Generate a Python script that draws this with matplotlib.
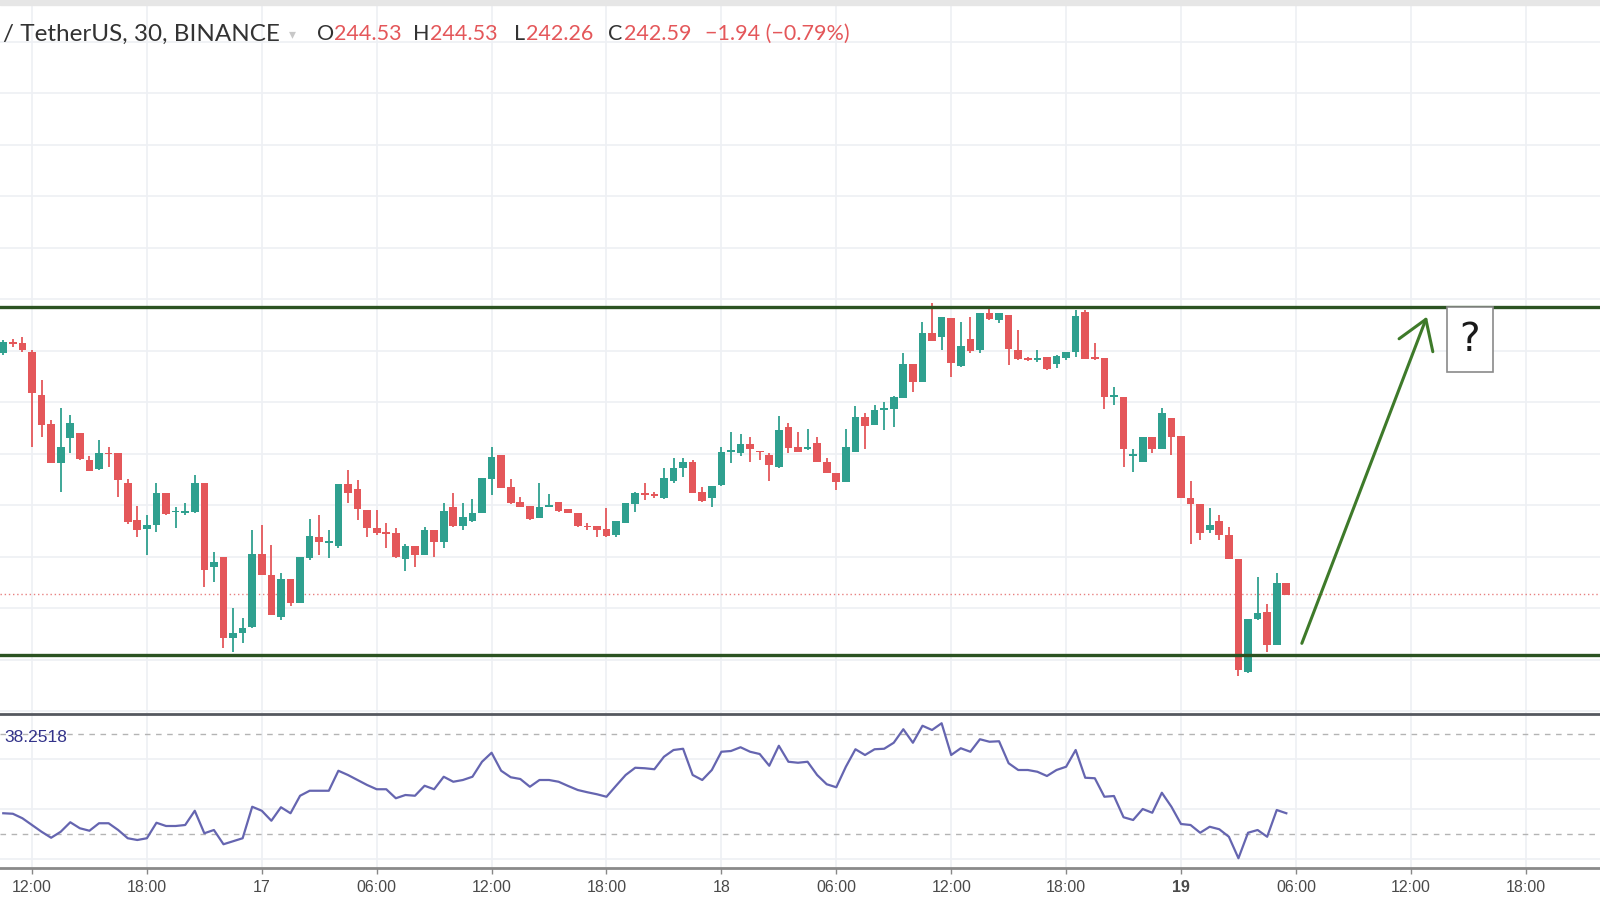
import matplotlib
matplotlib.use('Agg')
import matplotlib.pyplot as plt
from matplotlib.patches import Rectangle
import numpy as np
import pandas as pd

# 30 minute candles, 16th 10:30 -> 19th 05:30
times = pd.date_range('2018-11-16 10:30', periods=135, freq='30min')

opens = [249.82, 250.14, 250.12, 249.87, 248.57, 247.70, 246.52, 247.27, 247.44, 246.62,
         246.34, 246.84, 246.82, 245.94, 244.82, 244.54, 244.67, 245.62, 245.05, 245.02,
         245.07, 245.92, 243.42, 243.72, 241.27, 241.42, 241.60, 243.80, 243.17, 241.92,
         243.04, 242.32, 243.67, 244.32, 244.14, 244.04, 245.90, 245.74, 245.12, 244.57,
         244.42, 244.42, 243.64, 244.04, 243.77, 244.52, 244.17, 245.22, 244.64, 244.80,
         245.02, 246.04, 246.77, 245.82, 245.37, 245.24, 244.87, 245.22, 245.37, 245.14,
         245.04, 244.64, 244.64, 244.54, 244.37, 244.74, 245.30, 245.64, 245.60, 245.47,
         246.00, 246.37, 246.57, 245.67, 245.47, 245.87, 246.87, 246.82, 247.10, 246.89,
         246.77, 246.40, 247.62, 247.00, 246.95, 247.12, 246.57, 246.24, 245.97, 246.87,
         247.92, 247.67, 248.12, 248.14, 248.47, 249.50, 248.97, 250.42, 250.32, 250.87,
         249.44, 250.24, 249.92, 251.04, 250.82, 250.97, 249.92, 249.66, 249.62, 249.72,
         249.50, 249.67, 249.87, 251.07, 249.69, 249.67, 248.50, 248.50, 246.75, 246.57,
         247.30, 246.94, 247.87, 247.34, 245.47, 245.30, 244.52, 244.80, 244.37, 243.64,
         240.27, 241.84, 242.07, 241.07, 242.92]
highs = [250.22, 250.24, 250.32, 249.92, 249.02, 247.82, 248.17, 247.97, 247.44, 246.74,
         247.22, 247.02, 246.82, 246.04, 245.24, 244.97, 245.94, 245.62, 245.22, 245.34,
         246.17, 245.94, 243.87, 243.72, 242.17, 241.87, 244.52, 244.67, 244.07, 243.22,
         243.04, 243.72, 244.84, 244.97, 244.52, 245.90, 246.32, 246.02, 245.12, 245.12,
         244.72, 244.57, 244.10, 244.04, 244.62, 244.52, 245.32, 245.62, 245.32, 245.44,
         246.07, 247.02, 246.77, 246.04, 245.50, 245.24, 245.92, 245.60, 245.37, 245.16,
         245.04, 244.74, 244.64, 245.17, 244.80, 245.32, 245.67, 245.94, 245.67, 246.37,
         246.67, 246.67, 246.62, 245.82, 245.84, 247.02, 247.47, 247.40, 247.32, 246.89,
         246.82, 247.94, 247.74, 247.47, 247.54, 247.32, 246.67, 246.24, 247.54, 248.24,
         248.02, 248.27, 248.37, 248.54, 249.82, 249.50, 250.77, 251.32, 250.92, 250.87,
         250.77, 250.92, 251.04, 251.17, 251.02, 250.97, 250.52, 249.72, 249.92, 249.72,
         249.77, 249.87, 251.12, 251.12, 250.12, 249.67, 248.82, 248.50, 246.94, 247.30,
         247.30, 248.17, 247.87, 247.34, 246.00, 245.30, 245.17, 244.97, 244.62, 243.64,
         241.84, 243.10, 242.30, 243.22, 242.92]
lows = [249.77, 250.02, 249.87, 247.02, 247.32, 246.52, 245.67, 246.82, 246.62, 246.30,
        246.32, 246.42, 245.52, 244.70, 244.32, 243.77, 244.47, 244.97, 244.57, 244.97,
        245.02, 242.82, 242.97, 240.97, 240.87, 241.12, 241.57, 243.17, 241.97, 241.82,
        242.24, 242.32, 243.62, 243.77, 243.67, 243.97, 245.32, 244.82, 244.32, 244.37,
        243.97, 243.67, 243.30, 243.42, 243.77, 243.72, 243.97, 244.62, 244.52, 244.77,
        245.02, 245.57, 245.77, 245.30, 245.20, 244.82, 244.87, 245.20, 245.07, 245.02,
        244.60, 244.52, 244.30, 244.32, 244.32, 244.72, 245.07, 245.42, 245.47, 245.44,
        245.94, 246.12, 245.62, 245.37, 245.22, 245.84, 246.52, 246.74, 246.57, 246.62,
        246.00, 246.37, 246.82, 246.87, 246.92, 246.57, 246.22, 245.72, 245.97, 246.87,
        246.94, 247.67, 247.52, 247.62, 248.47, 248.67, 248.97, 250.20, 249.92, 249.10,
        249.40, 249.82, 249.82, 250.82, 250.72, 249.47, 249.62, 249.59, 249.57, 249.32,
        249.37, 249.62, 249.72, 249.64, 249.62, 248.14, 248.27, 246.42, 246.27, 246.57,
        246.82, 246.94, 246.77, 245.47, 244.10, 244.22, 244.44, 244.22, 243.64, 240.14,
        240.24, 241.82, 240.87, 241.07, 242.57]
closes = [250.17, 250.10, 249.92, 248.62, 247.67, 246.52, 247.02, 247.72, 246.64, 246.30,
          246.82, 246.79, 246.02, 244.77, 244.52, 244.67, 245.62, 245.00, 245.10, 245.10,
          245.94, 243.32, 243.57, 241.27, 241.42, 241.57, 243.80, 243.17, 241.97, 243.04,
          242.32, 243.72, 244.34, 244.17, 244.20, 245.90, 245.62, 245.14, 244.57, 244.42,
          244.40, 243.70, 244.04, 243.77, 244.52, 244.17, 245.10, 244.64, 244.90, 245.04,
          246.07, 246.72, 245.77, 245.34, 245.22, 244.84, 245.22, 245.26, 245.10, 245.04,
          244.64, 244.60, 244.52, 244.34, 244.80, 245.32, 245.64, 245.57, 245.55, 246.07,
          246.37, 246.57, 245.64, 245.40, 245.84, 246.87, 246.89, 247.10, 246.94, 246.85,
          246.47, 247.52, 246.97, 246.87, 246.99, 246.57, 246.22, 245.97, 247.00, 247.92,
          247.64, 248.12, 248.16, 248.50, 249.50, 248.97, 250.42, 250.20, 250.92, 249.54,
          250.04, 249.90, 251.04, 250.84, 251.02, 249.94, 249.65, 249.62, 249.66, 249.34,
          249.74, 249.87, 250.94, 249.64, 249.65, 248.50, 248.57, 246.94, 246.79, 247.30,
          246.94, 248.04, 247.32, 245.47, 245.30, 244.42, 244.67, 244.37, 243.64, 240.32,
          241.84, 242.04, 241.07, 242.92, 242.57]
rsi = [38.3, 38.1, 36.3, 33.6, 30.9, 28.5, 30.9, 34.7, 32.3, 31.3,
       34.3, 34.3, 31.6, 28.3, 27.6, 28.3, 34.5, 33.2, 33.2, 33.6,
       39.3, 30.3, 31.6, 25.9, 27.1, 28.3, 40.9, 39.3, 35.3, 40.7,
       38.3, 45.3, 47.3, 47.3, 47.3, 55.3, 53.6, 51.6, 49.6, 47.9,
       47.9, 44.3, 45.6, 45.3, 49.3, 47.9, 52.9, 50.9, 51.6, 52.9,
       58.9, 62.5, 55.3, 52.7, 52.0, 48.9, 51.6, 51.6, 50.9, 49.2,
       47.6, 46.7, 45.9, 44.9, 49.3, 53.6, 56.5, 56.3, 55.9, 60.9,
       63.6, 64.1, 53.6, 51.6, 55.6, 62.9, 63.2, 64.7, 62.9, 62.0,
       57.3, 65.3, 58.9, 58.5, 58.9, 53.6, 49.9, 48.7, 56.9, 63.9,
       61.6, 63.9, 64.1, 66.5, 71.9, 66.5, 73.3, 71.6, 74.3, 61.6,
       64.3, 62.9, 67.9, 66.9, 67.1, 58.3, 55.6, 55.6, 54.9, 53.2,
       55.6, 56.9, 63.6, 52.5, 52.3, 44.9, 45.2, 36.7, 35.6, 40.0,
       38.5, 46.5, 40.9, 34.0, 33.6, 30.5, 32.9, 31.9, 28.9, 20.3,
       30.5, 31.6, 28.9, 39.6, 38.3]

resistance = 251.22
support = 240.77
last_price = 242.59
rsi_text = '38.2518'

tick_hours = [-12, -6, 0, 6, 12, 18, 24, 30, 36, 42, 48, 54, 60, 66]
tick_labels = ['12:00', '18:00', '17', '06:00', '12:00', '18:00', '18',
               '06:00', '12:00', '18:00', '19', '06:00', '12:00', '18:00']

GREEN = '#2fa08f'
RED = '#e4575a'
GRID = '#eef0f4'

o = np.array(opens); h = np.array(highs); l = np.array(lows); c = np.array(closes)
hrs = np.asarray((times - pd.Timestamp('2018-11-17')) / pd.Timedelta(hours=1))
up = c >= o
cols = np.where(up, GREEN, RED)

fig = plt.figure(figsize=(16, 9), dpi=100)
fig.patch.set_facecolor('white')
fig.patches.append(Rectangle((0, 1 - 5 / 900), 1, 5 / 900, transform=fig.transFigure,
                             color='#e6e6e6', zorder=0))

ax = fig.add_axes([0, 1 - 713 / 900, 1, 708 / 900])
ax_r = fig.add_axes([0, 1 - 868 / 900, 1, 154 / 900])

xlim = (-13.67, 69.88)

# main pane
ax.set_xlim(*xlim)
ax.set_ylim(239.03, 260.27)
for y in np.arange(242.18 - 3 * 1.545, 261, 1.545):
    ax.axhline(y, color=GRID, lw=1.2, zorder=0)
for x in tick_hours:
    ax.axvline(x, color=GRID, lw=1.2, zorder=0)

ax.vlines(hrs, l, h, colors=cols, lw=1.3, zorder=3)
body = np.maximum(np.abs(c - o), 0.05)
ax.bar(hrs, body, bottom=np.minimum(o, c), width=0.4, color=cols, lw=0, zorder=4)

ax.axhline(last_price, color='#e88080', lw=1, ls=(0, (1, 2)), zorder=2)
ax.axhline(resistance, color='#2c5322', lw=2.4, zorder=5)
ax.axhline(support, color='#2c5322', lw=2.4, zorder=5)

ax.annotate('', xy=(60.84, 250.92), xytext=(54.31, 241.12),
            arrowprops=dict(arrowstyle='->,head_length=2.0,head_width=1.3',
                            mutation_scale=10, color='#3e7a2a', lw=2.2,
                            shrinkA=0, shrinkB=0), zorder=6)
ax.add_patch(Rectangle((61.88, 249.27), 2.4, 1.95, facecolor='white',
                       edgecolor='#8a8a8a', lw=1.2, zorder=6))
ax.text(63.08, 250.23, '?', fontsize=28, ha='center', va='center',
        color='#1a1a1a', zorder=7)

ax.set_xticks([]); ax.set_yticks([])
for s in ax.spines.values():
    s.set_visible(False)

# RSI pane
ax_r.set_xlim(*xlim)
ax_r.set_ylim(16.4, 78)
for x in tick_hours:
    ax_r.axvline(x, color=GRID, lw=1.2, zorder=0)
for y in [20, 40, 60]:
    ax_r.axhline(y, color=GRID, lw=1.2, zorder=0)
for y in [70, 30]:
    ax_r.axhline(y, color='#b4b4b4', lw=1, ls=(0, (4, 4)), zorder=1)
ax_r.plot(hrs, rsi, color='#6565b0', lw=1.6, zorder=3)

ax_r.set_yticks([])
ax_r.set_xticks(tick_hours)
ax_r.set_xticklabels(tick_labels, fontsize=11.5, color='#4a4a4a', family='Liberation Sans')
for lab in ax_r.get_xticklabels():
    if lab.get_text() == '19':
        lab.set_fontweight('bold')
ax_r.tick_params(axis='x', length=4, width=1, color='#888888', pad=5)
for side in ['left', 'right']:
    ax_r.spines[side].set_visible(False)
ax_r.spines['top'].set_color('#55585f')
ax_r.spines['top'].set_linewidth(2)
ax_r.spines['bottom'].set_color('#8a8a8a')
ax_r.spines['bottom'].set_linewidth(2)

fig.text(4 / 1600, 1 - 738 / 900, rsi_text, fontsize=12.5, color='#33338a',
         va='center', family='Liberation Sans')


# header
def px(x, y):
    return x / 1600, 1 - y / 900


hdr_y = 34
fig.text(*px(3, hdr_y), '/ TetherUS, 30, BINANCE', color='#333333',
         fontsize=17.5, va='center', family='Lato')
fig.text(*px(289, hdr_y), '\u25be', color='#c8c8c8', fontsize=10, va='center')
nfont = dict(fontsize=15.5, va='center', family='Lato')
parts = [(317, 'O', '#333333'), (334, '244.53', RED),
         (413, 'H', '#333333'), (430, '244.53', RED),
         (514, 'L', '#333333'), (526, '242.26', RED),
         (608, 'C', '#333333'), (624, '242.59', RED),
         (705, '\u22121.94 (\u22120.79%)', RED)]
for x, t, col in parts:
    fig.text(*px(x, hdr_y), t, color=col, **nfont)

fig.savefig('out.png', dpi=100)
